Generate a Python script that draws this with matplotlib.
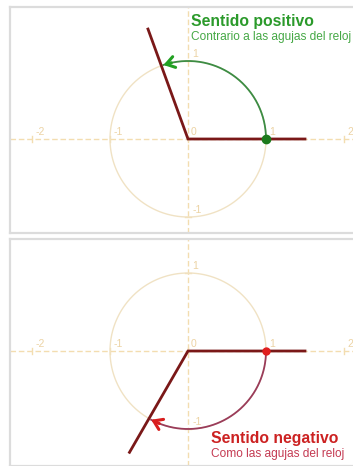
import numpy as np
import matplotlib
matplotlib.use("Agg")
import matplotlib.pyplot as plt

plt.rcParams['font.family'] = ['Liberation Sans', 'DejaVu Sans']

# ---- data ----
angles_deg = [110, -120]          # terminal side angle of each panel
ray_length = 1.5
circle_radius = 1.0
tick_values = [-2, -1, 0, 1, 2]
tick_labels = ["-2", "-1", "0", "1", "2"]
titles = ["Sentido positivo", "Sentido negativo"]
subtitles = ["Contrario a las agujas del reloj", "Como las agujas del reloj"]

W, H = 353, 466
fig = plt.figure(figsize=(W / 100, H / 100), dpi=100)
fig.patch.set_facecolor("white")

scale = 78.0  # pixels per unit

def make_axes(left_px, top_px, right_px, bottom_px, ox, oy):
    ax = fig.add_axes([left_px / W, 1 - bottom_px / H,
                       (right_px - left_px) / W, (bottom_px - top_px) / H])
    ax.set_xlim((left_px - ox) / scale, (right_px - ox) / scale)
    ax.set_ylim((oy - bottom_px) / scale, (oy - top_px) / scale)
    ax.set_xticks([]); ax.set_yticks([])
    for s in ["left", "top", "bottom"]:
        ax.spines[s].set_color("#dcdcdc")
        ax.spines[s].set_linewidth(1.6)
    ax.spines["right"].set_visible(False)
    return ax

ax1 = make_axes(10, 7, 353, 233, 188, 139)
ax2 = make_axes(10, 239, 353, 466, 188, 351)

axis_col = "#f3ddb0"
circ_col = "#f0e2c4"
lab_col = "#ecd3a4"

styles = [
    dict(arc="#3c8c44", head="#22a022", dot="#1c7a1c",
         title="#2b9a2b", sub="#45a845",
         tx=0.04, ty=1.60, sty=1.38),
    dict(arc="#9a3c5a", head="#d81e1e", dot="#e01e1e",
         title="#cc2222", sub="#c43a52",
         tx=0.30, ty=-1.02, sty=-1.24),
]

for ax, ang, title, sub, st in zip([ax1, ax2], angles_deg, titles, subtitles, styles):
    x0, x1 = ax.get_xlim(); y0, y1 = ax.get_ylim()
    # axes
    ax.plot([x0, x1], [0, 0], color=axis_col, lw=1.0, ls=(0, (4, 2)), zorder=1)
    ax.plot([0, 0], [y0, y1], color=axis_col, lw=1.0, ls=(0, (4, 2)), zorder=1)
    for v, lab in zip(tick_values, tick_labels):
        if x0 < v < x1:
            ax.plot([v, v], [-0.04, 0.04], color=axis_col, lw=1.0, zorder=1)
            ax.text(v + 0.04, 0.03, lab, color=lab_col, fontsize=7.5, ha="left", va="bottom",
                    zorder=1, clip_on=True)
        if v != 0 and y0 < v < y1:
            ax.plot([-0.04, 0.04], [v, v], color=axis_col, lw=1.0, zorder=1)
            ax.text(0.06, v + 0.03, lab, color=lab_col, fontsize=7.5, ha="left", va="bottom",
                    zorder=1, clip_on=True)
    # unit circle
    t = np.linspace(0, 2 * np.pi, 400)
    ax.plot(circle_radius * np.cos(t), circle_radius * np.sin(t), color=circ_col, lw=1.0, zorder=2)
    # arc showing direction
    a = np.radians(ang)
    ta = np.linspace(0, a * 0.985, 200)
    ax.plot(circle_radius * np.cos(ta), circle_radius * np.sin(ta), color=st["arc"], lw=1.3, zorder=3)
    end = np.array([np.cos(a * 0.985), np.sin(a * 0.985)]) * circle_radius
    prev = np.array([np.cos(a * 0.93), np.sin(a * 0.93)]) * circle_radius
    ax.annotate("", xy=end, xytext=prev,
                arrowprops=dict(arrowstyle="->,head_length=0.6,head_width=0.4",
                                color=st["head"], lw=2.2, shrinkA=0, shrinkB=0), zorder=5)
    # rays
    ax.plot([ray_length, 0, ray_length * np.cos(a)], [0, 0, ray_length * np.sin(a)],
            color="#7a1818", lw=2.0, solid_joinstyle="miter", zorder=4)
    ax.plot([circle_radius], [0], "o", color=st["dot"], ms=6 if ang > 0 else 5, zorder=6)
    # texts
    ax.text(st["tx"], st["ty"], title, color=st["title"], fontsize=11.3, fontweight="bold",
            ha="left", va="top", zorder=7)
    ax.text(st["tx"], st["sty"], sub, color=st["sub"], fontsize=8.6,
            ha="left", va="top", zorder=7)

fig.savefig("out.png", dpi=100, facecolor="white")
